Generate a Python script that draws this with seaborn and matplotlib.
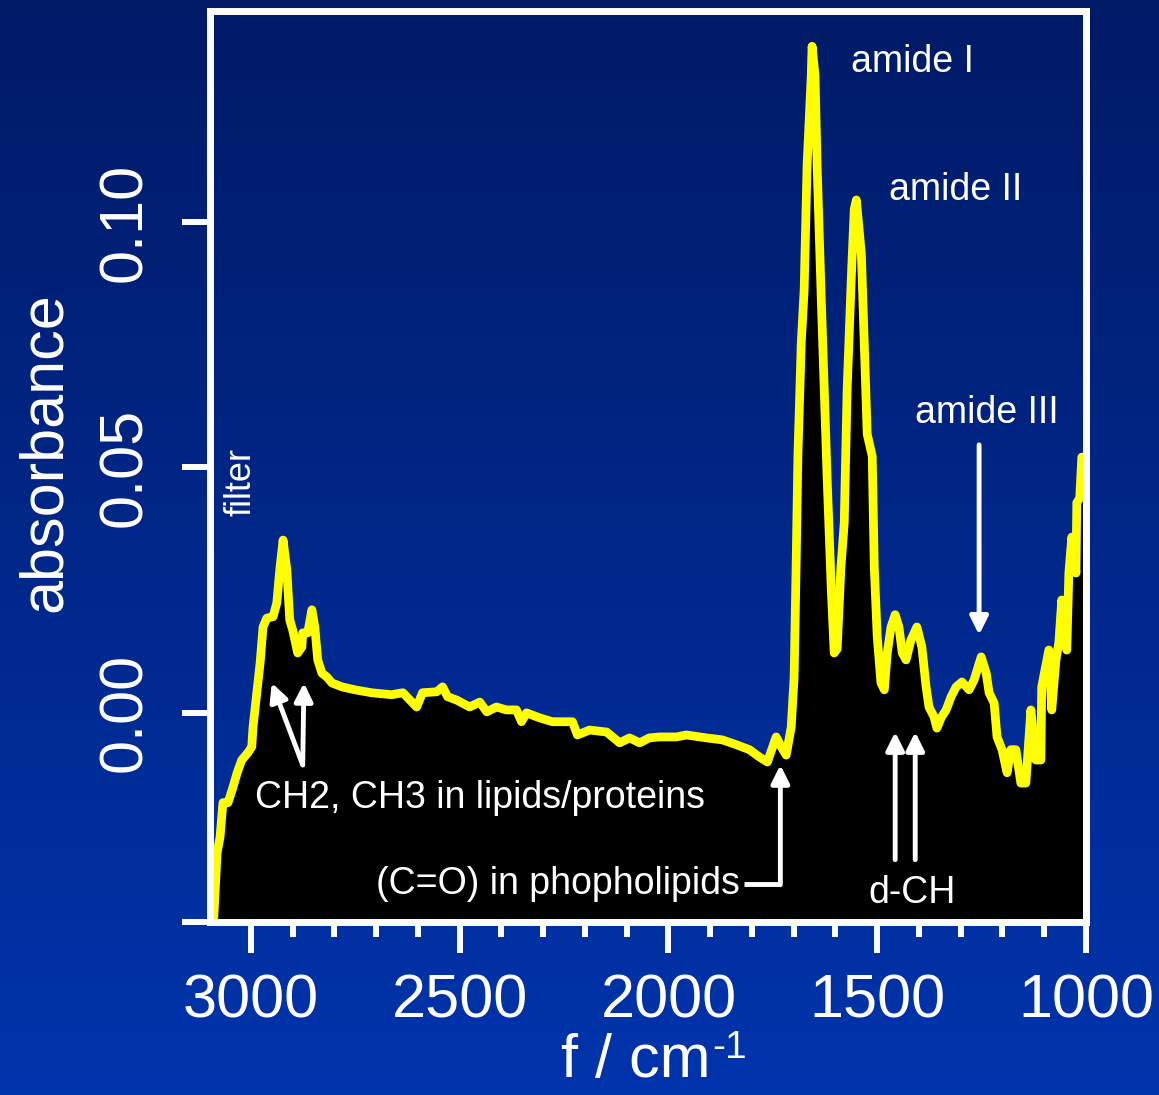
import numpy as np
import pandas as pd
import seaborn as sns
import matplotlib.pyplot as plt

# FTIR spectrum (wavenumber in cm-1, absorbance)
wavenumber = [3089, 3081, 3074, 3067, 3055, 3045, 3033, 3022, 3007, 2998,
              2995, 2986, 2978, 2971, 2962, 2947, 2938, 2931, 2923, 2914,
              2907, 2900, 2888, 2878, 2876, 2864, 2854, 2847, 2840, 2830,
              2818, 2806, 2782, 2751, 2711, 2663, 2636, 2603, 2589, 2555,
              2541, 2529, 2507, 2476, 2452, 2435, 2412, 2388, 2364, 2352,
              2340, 2309, 2278, 2230, 2218, 2189, 2148, 2117, 2093, 2069,
              2046, 2022, 1981, 1957, 1909, 1871, 1837, 1806, 1782, 1763,
              1742, 1730, 1718, 1706, 1699, 1694, 1690, 1682, 1675, 1668,
              1658, 1656, 1649, 1644, 1634, 1627, 1620, 1610, 1603, 1596,
              1587, 1579, 1572, 1562, 1555, 1550, 1538, 1531, 1524, 1512,
              1507, 1500, 1491, 1483, 1476, 1467, 1457, 1448, 1440, 1431,
              1419, 1405, 1393, 1383, 1376, 1364, 1357, 1347, 1335, 1323,
              1311, 1297, 1280, 1268, 1251, 1239, 1232, 1220, 1213, 1201,
              1189, 1180, 1168, 1156, 1144, 1132, 1120, 1108, 1106, 1089,
              1082, 1072, 1065, 1058, 1046, 1041, 1034, 1024, 1022, 1015,
              1010, 1003]
absorbance = [-0.0418, -0.0285, -0.0253, -0.0183, -0.0183, -0.0157, -0.0122, -0.0096, -0.0081, -0.0069,
              -0.0029, 0.0041, 0.0102, 0.0175, 0.0193, 0.0196, 0.0224, 0.0291, 0.0352, 0.0291,
              0.0189, 0.0169, 0.0122, 0.0134, 0.0163, 0.0163, 0.0210, 0.0175, 0.0108, 0.0081,
              0.0073, 0.0061, 0.0053, 0.0047, 0.0041, 0.0037, 0.0041, 0.0012, 0.0041, 0.0043,
              0.0053, 0.0033, 0.0026, 0.0012, 0.0022, 0.0002, 0.0012, 0.0006, 0.0006, -0.0018,
              0.0000, -0.0010, -0.0018, -0.0018, -0.0045, -0.0035, -0.0039, -0.0061, -0.0051, -0.0061,
              -0.0051, -0.0049, -0.0049, -0.0045, -0.0051, -0.0055, -0.0065, -0.0075, -0.0090, -0.0100,
              -0.0049, -0.0069, -0.0086, -0.0029, 0.0073, 0.0312, 0.0523, 0.0752, 0.0862, 0.1116,
              0.1299, 0.1358, 0.1299, 0.1116, 0.0843, 0.0660, 0.0479, 0.0251, 0.0122, 0.0130,
              0.0295, 0.0387, 0.0660, 0.0888, 0.1026, 0.1045, 0.0935, 0.0752, 0.0568, 0.0523,
              0.0295, 0.0155, 0.0061, 0.0047, 0.0122, 0.0175, 0.0200, 0.0175, 0.0122, 0.0108,
              0.0149, 0.0175, 0.0134, 0.0053, 0.0012, -0.0008, -0.0031, -0.0010, 0.0006, 0.0033,
              0.0053, 0.0063, 0.0047, 0.0067, 0.0114, 0.0081, 0.0041, 0.0020, -0.0049, -0.0075,
              -0.0122, -0.0075, -0.0075, -0.0143, -0.0143, 0.0006, -0.0096, -0.0096, 0.0053, 0.0128,
              0.0006, 0.0108, 0.0143, 0.0230, 0.0128, 0.0285, 0.0358, 0.0285, 0.0428, 0.0438,
              0.0521, 0.0521]

x_ticks = [3000, 2500, 2000, 1500, 1000]
y_ticks = [0.00, 0.05, 0.10]
y_tick_labels = ['0.00', '0.05', '0.10']

df = pd.DataFrame({'wavenumber': wavenumber, 'absorbance': absorbance})

sns.set_theme(style='ticks')
plt.rcParams['font.family'] = ['Liberation Sans', 'DejaVu Sans']

fig = plt.figure(figsize=(11.59, 10.95), dpi=100)

# blue gradient background
bg = fig.add_axes([0, 0, 1, 1], zorder=0)
top = np.array([0, 26, 102]) / 255
bottom = np.array([0, 52, 172]) / 255
t = np.linspace(0, 1, 256)[:, None]
grad = (top * (1 - t) + bottom * t)[:, None, :]
bg.imshow(grad, aspect='auto', extent=[0, 1, 0, 1])
bg.axis('off')

ax = fig.add_axes([0.1812, 0.158, 0.7558, 0.832], zorder=1)
ax.set_facecolor('none')

x_lim = (3098, 1000)
y_lim = (-0.0426, 0.143)

ax.fill_between(df['wavenumber'], df['absorbance'], y_lim[0], color='black', lw=0)
sns.lineplot(data=df, x='wavenumber', y='absorbance', ax=ax, color='yellow',
             lw=6.3, sort=False, solid_joinstyle='round', solid_capstyle='round')

ax.set_xlim(x_lim)
ax.set_ylim(y_lim)

for s in ax.spines.values():
    s.set_color('white')
    s.set_linewidth(5)

ax.set_xticks(x_ticks)
ax.set_xticklabels([str(v) for v in x_ticks])
ax.set_xticks(np.arange(1000, 3100, 100), minor=True)
ax.set_yticks([y_lim[0]] + y_ticks)
ax.set_yticklabels([''] + y_tick_labels)

ax.tick_params(axis='x', which='major', direction='out', length=22, width=4.3,
               color='white', labelcolor='white', labelsize=44, pad=15)
ax.tick_params(axis='x', which='minor', direction='out', length=11, width=4.3, color='white')
ax.tick_params(axis='y', which='major', direction='out', length=20, width=4.3,
               color='white', labelcolor='white', labelsize=44, pad=20, labelrotation=90)
for lab in ax.get_yticklabels():
    lab.set_va('center')

ax.set_xlabel('f / cm', color='white', fontsize=44)
ax.xaxis.set_label_coords(0.486, -0.122)
ax.annotate('-1', xy=(1, 1), xycoords=ax.xaxis.label, xytext=(1, 2),
            textcoords='offset points', ha='left', va='top', color='white', fontsize=28)
ax.set_ylabel('absorbance', color='white', fontsize=44)
ax.yaxis.set_label_coords(-0.155, 0.516)

# annotations
txt = dict(color='white', fontsize=27)
ax.text(1562, 0.1326, 'amide I', ha='left', va='center', **txt)
ax.text(1471, 0.1065, 'amide II', ha='left', va='center', **txt)
ax.text(1409, 0.0611, 'amide III', ha='left', va='center', **txt)
ax.text(3024, 0.047, 'filter', ha='center', va='center', rotation=90, color='white', fontsize=26)
ax.text(2990, -0.0173, 'CH2, CH3 in lipids/proteins', ha='left', va='center', **txt)
ax.text(1830, -0.0348, '(C=O) in phopholipids', ha='right', va='center', **txt)
ax.text(1416, -0.0367, 'd-CH', ha='center', va='center', **txt)

arr = dict(arrowstyle='-|>,head_length=0.9,head_width=0.45', color='white', lw=3.5,
           shrinkA=0, shrinkB=0)
ax.annotate('', xy=(1256, 0.0159), xytext=(1256, 0.0546), arrowprops=arr)
ax.annotate('', xy=(2950, 0.0061), xytext=(2876, -0.0106), arrowprops=arr)
ax.annotate('', xy=(2873, 0.0061), xytext=(2876, -0.0106), arrowprops=arr)
ax.annotate('', xy=(1457, -0.0039), xytext=(1457, -0.0299), arrowprops=arr)
ax.annotate('', xy=(1409, -0.0039), xytext=(1409, -0.0299), arrowprops=arr)
ax.plot([1818, 1732], [-0.0348, -0.0348], color='white', lw=3.5, solid_capstyle='butt')
ax.annotate('', xy=(1732, -0.0106), xytext=(1732, -0.0350), arrowprops=arr)

fig.savefig('out.png', dpi=100)
